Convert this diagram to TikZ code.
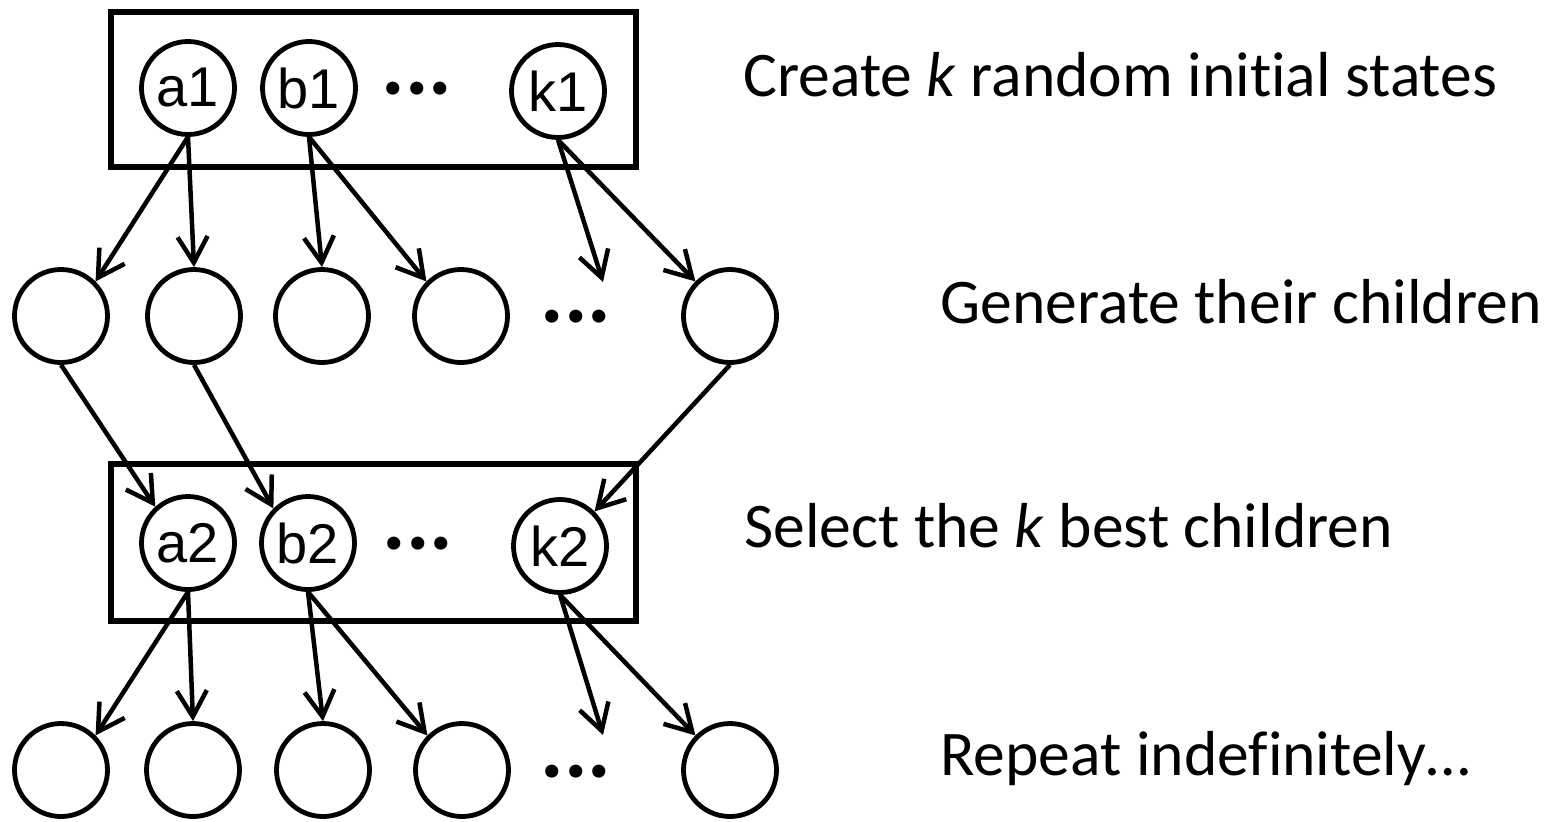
\documentclass[tikz,border=0pt]{standalone}
\usepackage{fontspec}
\setmainfont[Ligatures=NoCommon]{Carlito}
\newfontfamily\arialfont{Liberation Sans}
\newfontfamily\dotfont{Carlito}
\usetikzlibrary{arrows.meta}
\begin{document}
\begin{tikzpicture}[x=0.5pt,y=-0.5pt,
  st/.style={circle,draw,line width=2.4pt,inner sep=0pt,minimum size=46.5pt,
    font=\arialfont\fontsize{28}{30}\selectfont},
  boxst/.style={rectangle,draw,line width=2.7pt,inner sep=0pt},
  dotsst/.style={inner sep=0pt,font=\dotfont\bfseries\fontsize{44}{46}\selectfont},
  arr/.style={line width=2.25pt,-{Straight Barb[length=13pt,width=15pt,line width=2.25pt]}},
  lab/.style={anchor=base west,inner sep=0pt,font=\fontsize{31.8}{34}\selectfont}]
\useasboundingbox (0,0) rectangle (1552,821);
% boxes
\node[boxst,minimum width=262.5pt,minimum height=77.5pt] (box1) at (373.5,89.5) {};
\node[boxst,minimum width=262.5pt,minimum height=78.5pt] (box2) at (373.5,542.5) {};
% level 1
\node[st] (a1) at (188,88) {a1};
\node[st] (b1) at (309,88) {b1};
\node[dotsst] (d1) at (417,89) {...};
\node[st] (k1) at (558,91) {k1};
% level 2
\node[st] (c1) at (61,316) {};
\node[st] (c2) at (194,316) {};
\node[st] (c3) at (322,316) {};
\node[st] (c4) at (461,316) {};
\node[dotsst] (d2) at (576,317) {...};
\node[st] (c6) at (730,316) {};
\coordinate (f1) at (603,282);
% level 3
\node[st] (a2) at (188,543) {a2};
\node[st] (b2) at (308,543) {b2};
\node[dotsst] (d3) at (418,544) {...};
\node[st] (k2) at (560,546) {k2};
% level 4
\node[st] (e1) at (61,770) {};
\node[st] (e2) at (193,770) {};
\node[st] (e3) at (323,770) {};
\node[st] (e4) at (462,770) {};
\node[dotsst] (d4) at (576,772) {...};
\node[st] (e6) at (730,770) {};
\coordinate (f2) at (603,735);
% arrows level 1 -> 2
\draw[arr] (a1.south) -- (c1.45);
\draw[arr] (a1.south) -- (c2.north);
\draw[arr] (b1.south) -- (c3.north);
\draw[arr] (b1.south) -- (c4.135);
\draw[arr] (k1.south) -- (f1);
\draw[arr] (k1.south) -- (c6.135);
% arrows level 2 -> 3
\draw[arr] (c1.south) -- (a2.132);
\draw[arr] (c2.south) -- (b2.135);
\draw[arr] (c6.south) -- (k2.45);
% arrows level 3 -> 4
\draw[arr] (a2.south) -- (e1.45);
\draw[arr] (a2.south) -- (e2.north);
\draw[arr] (b2.south) -- (e3.north);
\draw[arr] (b2.south) -- (e4.135);
\draw[arr] (k2.south) -- (f2);
\draw[arr] (k2.south) -- (e6.135);
% labels
\node[lab] (t1) at (743,96) {Create \textit{k} random initial states};
\node[lab] (t2) at (940,323) {Generate their children};
\node[lab] (t3) at (744,547) {Select the \textit{k} best children};
\node[lab] (t4) at (940,775) {Repeat indefinitely…};
\end{tikzpicture}
\end{document}
